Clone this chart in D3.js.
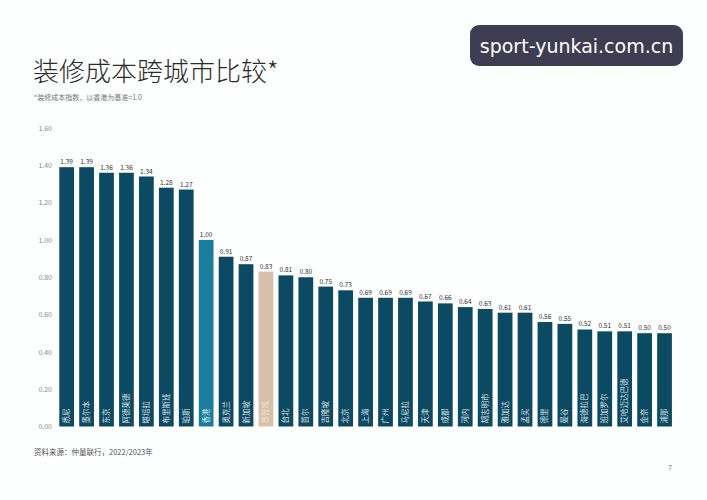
<!DOCTYPE html>
<html><head><meta charset="utf-8">
<script src="https://cdn.jsdelivr.net/npm/d3@7"></script>
<style>
html,body{margin:0;padding:0;background:#fdfefe;}
svg{display:block;}
</style></head>
<body>
<svg id="chart" width="707" height="500"></svg>
<script>
const cities = ["悉尼","墨尔本","东京","阿德莱德","堪培拉","布里斯班","珀斯","香港","奥克兰","新加坡","基督城","台北","首尔","吉隆坡","北京","上海","广州","马尼拉","天津","成都","河内","胡志明市","雅加达","孟买","德里","曼谷","海德拉巴","班加罗尔","艾哈迈达巴德","金奈","浦那"];
const values = [1.39,1.39,1.36,1.36,1.34,1.28,1.27,1.00,0.91,0.87,0.83,0.81,0.80,0.75,0.73,0.69,0.69,0.69,0.67,0.66,0.64,0.63,0.61,0.61,0.56,0.55,0.52,0.51,0.51,0.50,0.50];
const yTicks = [0,0.2,0.4,0.6,0.8,1.0,1.2,1.4,1.6];
const highlight = {"香港":"#1a7d9e","基督城":"#d7c0a9"};
const baseColor = "#0b4a62";

const svg = d3.select("#chart");
const font = "'Noto Sans CJK SC','Noto Sans',sans-serif";

const x = d3.scaleBand().domain(cities).range([56.7, 674.5]).paddingInner(0.26).paddingOuter(0.13);
const y = d3.scaleLinear().domain([0, 1.6]).range([426.5, 128]);

// title
svg.append("text").attr("x", 33).attr("y", 81).attr("font-family", font).attr("font-weight", 300)
  .attr("font-size", 26).attr("fill", "#2b2b2b").text("装修成本跨城市比较*");
svg.append("text").attr("x", 34).attr("y", 100).attr("font-family", font)
  .attr("font-size", 7).attr("fill", "#777").text("*装修成本指数，以香港为基准=1.0");

// y axis
const yAxis = d3.axisLeft(y).tickValues(yTicks).tickFormat(d3.format(".2f")).tickSize(0).tickPadding(0);
const ga = svg.append("g").attr("transform", "translate(52,0)").call(yAxis);
ga.select(".domain").remove();
ga.selectAll("text").attr("font-family", font).attr("font-size", 7).attr("fill", "#8a8a8a");

// bars
const bars = svg.append("g");
bars.selectAll("rect").data(cities).join("rect")
  .attr("x", d => x(d)).attr("width", x.bandwidth())
  .attr("y", (d,i) => y(values[i])).attr("height", (d,i) => y(0) - y(values[i]))
  .attr("fill", d => highlight[d] || baseColor);

// value labels
bars.selectAll("text.v").data(cities).join("text").attr("class","v")
  .attr("x", d => x(d) + x.bandwidth()/2).attr("y", (d,i) => y(values[i]) - 3)
  .attr("text-anchor", "middle").attr("font-family", font).attr("font-size", 6.5).attr("fill", "#333")
  .text((d,i) => d3.format(".2f")(values[i]));

// category labels inside bars
bars.selectAll("text.c").data(cities).join("text").attr("class","c")
  .attr("transform", d => `translate(${x(d) + x.bandwidth()/2 + 2.5},${y(0) - 3}) rotate(-90)`)
  .attr("text-anchor", "start").attr("font-family", font).attr("font-size", 7.5)
  .attr("fill", d => d === "基督城" ? "rgba(255,255,255,0.55)" : "rgba(255,255,255,0.85)")
  .text(d => d);

// footer
svg.append("text").attr("x", 34).attr("y", 455).attr("font-family", font)
  .attr("font-size", 7.5).attr("fill", "#555").text("资料来源：仲量联行，2022/2023年");
svg.append("text").attr("x", 668).attr("y", 470).attr("font-family", font)
  .attr("font-size", 7).attr("fill", "#777").text("7");

// watermark
svg.append("rect").attr("x", 470).attr("y", 25).attr("width", 213).attr("height", 41).attr("rx", 9)
  .attr("fill", "#3e3d52");
svg.append("text").attr("x", 576.5).attr("y", 53).attr("text-anchor", "middle").attr("font-family", "'DejaVu Sans',sans-serif")
  .attr("font-size", 19).attr("fill", "#ffffff").text("sport-yunkai.com.cn");
</script>
</body></html>
